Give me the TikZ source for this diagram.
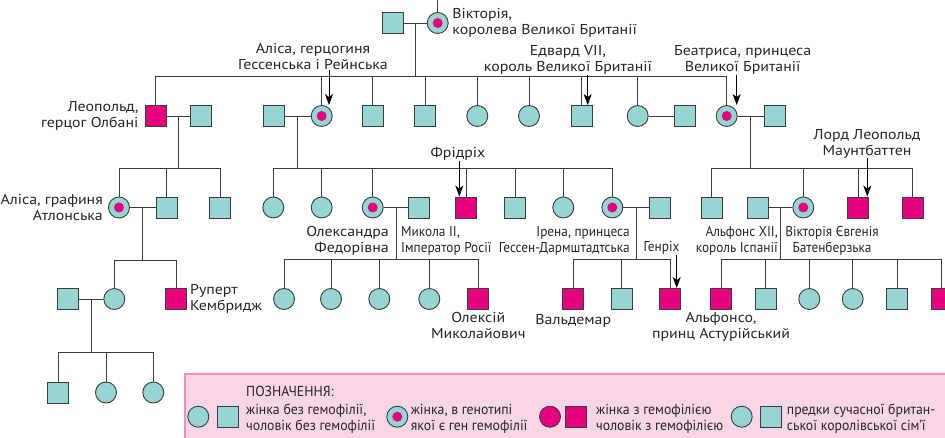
\documentclass[tikz,border=0pt]{standalone}
\usepackage{fontspec}
\setmainfont{PT Sans}
\newfontfamily\namefont[FakeStretch=1.11]{PT Sans}
\newfontfamily\narrowfont[FakeStretch=0.93]{PT Sans}
\newfontfamily\legfont[FakeStretch=0.95]{PT Sans}
\usetikzlibrary{arrows.meta, positioning, calc}
\definecolor{healthy}{HTML}{96D5D1}
\definecolor{sick}{HTML}{E6007E}
\definecolor{edge}{HTML}{3C3C3C}
\definecolor{legfill}{HTML}{F9D6E6}
\definecolor{legline}{HTML}{F08CBE}
\tikzset{
    man/.style={draw=edge, line width=0.9pt, fill=healthy, minimum size=21pt, inner sep=0pt},
    woman/.style={man, circle},
    sickman/.style={man, fill=sick},
    sickwoman/.style={woman, fill=sick},
    carrier/.style={woman, path picture={\fill[sick] (path picture bounding box.center) circle (5pt);}},
    tie/.style={draw=edge, line width=0.9pt},
    arrow/.style={-{Stealth[length=11pt, width=8pt, inset=3pt]}, line width=0.9pt, black},
    lbl/.style={font=\namefont\fontsize{14.3}{16}\selectfont, text=black!85, align=center, inner sep=0pt},
    narrowlbl/.style={lbl, font=\narrowfont\fontsize{14.3}{16}\selectfont},
    legtext/.style={font=\legfont\fontsize{14.5}{16}\selectfont, text=black!85, align=left, anchor=west, inner sep=0pt},
    legbox/.style={draw=legline, fill=legfill, line width=1.2pt}
}
\begin{document}
\begin{tikzpicture}[x=1pt, y=-1pt]
    \useasboundingbox (0,0) rectangle (945,438);
    \clip (0,0) rectangle (945,438);
    % generation 1
    \node [man] (albert) at (392.5,23) {};
    \node [carrier] (vic) at (437.7,23) {};
    \coordinate (vtop) at (437.7,0);
    % generation 2
    \node [sickman] (leo) at (155.5,116) {};
    \node [man] (leowife) at (201,116) {};
    \node [man] (ludwig) at (273.5,116) {};
    \node [carrier] (alice) at (321.7,116) {};
    \node [man] (c21) at (372.7,116) {};
    \node [man] (c22) at (425,116) {};
    \node [woman] (c23) at (477.3,116) {};
    \node [woman] (c24) at (529,116) {};
    \node [man] (edward) at (581.7,116) {};
    \node [woman] (c25) at (637.7,116) {};
    \node [man] (c25man) at (685,116) {};
    \node [carrier] (beatrice) at (726.7,116) {};
    \node [man] (beaman) at (775,116) {};
    % generation 3
    \node [carrier] (alath) at (119,207.5) {};
    \node [man] (c31) at (166.7,207.5) {};
    \node [man] (c32) at (220,207.5) {};
    \node [woman] (c33) at (273.3,207.5) {};
    \node [woman] (c34) at (321.7,207.5) {};
    \node [carrier] (alexandra) at (372.7,207.5) {};
    \node [man] (nikolai) at (419.3,207.5) {};
    \node [sickman] (fritz) at (466,207.5) {};
    \node [man] (c35) at (515,207.5) {};
    \node [woman] (c36) at (563.3,207.5) {};
    \node [carrier] (irene) at (612.3,207.5) {};
    \node [man] (ireneman) at (660,207.5) {};
    \node [man] (c37) at (711.7,207.5) {};
    \node [man] (alfonsxii) at (757.7,207.5) {};
    \node [carrier] (ena) at (803.3,207.5) {};
    \node [sickman] (mountb) at (858.3,207.5) {};
    \node [sickman] (c38) at (912.7,207.5) {};
    % generation 4
    \node [man] (c41) at (67.7,299) {};
    \node [woman] (c42) at (114.3,299) {};
    \node [sickman] (rupert) at (176,299) {};
    \node [woman] (n1) at (284,299) {};
    \node [woman] (n2) at (331,299) {};
    \node [woman] (n3) at (379.3,299) {};
    \node [woman] (n4) at (429.3,299) {};
    \node [sickman] (alexei) at (478.3,299) {};
    \node [sickman] (waldemar) at (573.3,299) {};
    \node [man] (c43) at (621.7,299) {};
    \node [sickman] (henrich) at (670,299) {};
    \node [sickman] (alfonso) at (721,299) {};
    \node [man] (c44) at (765.7,299) {};
    \node [woman] (c45) at (809.3,299) {};
    \node [woman] (c46) at (852.7,299) {};
    \node [man] (c47) at (897.3,299) {};
    \node [sickman] (c48) at (941.5,299) {};
    % generation 5
    \node [man] (c51) at (58.3,392.5) {};
    \node [woman] (c52) at (106,392.5) {};
    \node [woman] (c53) at (153.3,392.5) {};

    % marriages
    \draw [tie] (vic.north) -- (vtop);
    \draw [tie] (albert) -- (vic);
    \draw [tie] (leo) -- (leowife);
    \draw [tie] (ludwig) -- (alice);
    \draw [tie] (c25) -- (c25man);
    \draw [tie] (beatrice) -- (beaman);
    \draw [tie] (alath) -- (c31);
    \draw [tie] (alexandra) -- (nikolai);
    \draw [tie] (irene) -- (ireneman);
    \draw [tie] (alfonsxii) -- (ena);
    \draw [tie] (c41) -- (c42);

    % children
    \draw [tie] ($(albert)!.5!(vic)$) -- ++(0,53) coordinate (f1);
    \foreach \k in {leo,alice,c21,c22,c23,c24,edward,c25,beatrice}
        \draw [tie] (\k.north) |- (f1);
    \draw [tie] ($(leo)!.5!(leowife)$) -- ++(0,52) coordinate (f2);
    \foreach \k in {alath,c31,c32}
        \draw [tie] (\k.north) |- (f2);
    \draw [tie] ($(ludwig)!.5!(alice)$) -- ++(0,52) coordinate (f3);
    \foreach \k in {c33,c34,alexandra,fritz,c35,c36,irene}
        \draw [tie] (\k.north) |- (f3);
    \draw [tie] ($(beatrice)!.5!(beaman)$) -- ++(0,52) coordinate (f4);
    \foreach \k in {c37,ena,mountb,c38}
        \draw [tie] (\k.north) |- (f4);
    \draw [tie] ($(alath)!.5!(c31)$) -- ++(0,52.5) coordinate (f5);
    \foreach \k in {c42,rupert}
        \draw [tie] (\k.north) |- (f5);
    \draw [tie] ($(alexandra)!.5!(nikolai)$) -- ++(0,52) coordinate (f6);
    \foreach \k in {n1,n2,n3,n4,alexei}
        \draw [tie] (\k.north) |- (f6);
    \draw [tie] ($(irene)!.5!(ireneman)$) -- ++(0,52) coordinate (f7);
    \foreach \k in {waldemar,c43,henrich}
        \draw [tie] (\k.north) |- (f7);
    \draw [tie] ($(alfonsxii)!.5!(ena)$) -- ++(0,52) coordinate (f8);
    \foreach \k in {alfonso,c44,c45,c46,c47,c48}
        \draw [tie] (\k.north) |- (f8);
    \draw [tie] ($(c41)!.5!(c42)$) -- ++(0,53.5) coordinate (f9);
    \foreach \k in {c51,c52,c53}
        \draw [tie] (\k.north) |- (f9);

    % names
    \node [lbl, align=left, right=3.5pt of vic] (lvic) {Вікторія,\\королева Великої Британії};
    \node [lbl] (lalice) at (313,57) {Аліса, герцогиня\\Гессенська і Рейнська};
    \node [lbl] (ledward) at (568,60) {Едвард VII,\\король Великої Британії};
    \node [lbl] (lbea) at (742.7,60) {Беатриса, принцеса\\Великої Британії};
    \node [lbl, align=right, left=6pt of leo] (lleo) {Леопольд,\\герцог Олбані};
    \node [lbl] (lmountb) at (867,143.5) {Лорд Леопольд\\Маунтбаттен};
    \node [lbl] (lfritz) at (458,154) {Фрідріх};
    \node [lbl, align=right, left=5pt of alath] (lalath) {Аліса, графиня\\Атлонська};
    \node [lbl, align=right, anchor=east] (lalexandra) at (389,240.5) {Олександра\\Федорівна};
    \node [narrowlbl, align=left, anchor=west] (lnikolai) at (401,240.5) {Микола II,\\Імператор Росії};
    \node [narrowlbl, align=right, anchor=east] (lirene) at (630,240.5) {Ірена, принцеса\\Гессен-Дармштадтська};
    \node [narrowlbl] (lhenrich) at (661.5,248.3) {Генріх};
    \node [narrowlbl, align=right, anchor=east] (lalfonsxii) at (778,240.5) {Альфонс XII,\\король Іспанії};
    \node [narrowlbl] (lena) at (832,240.5) {Вікторія Євгенія\\Батенберзька};
    \node [lbl, align=left, right=3pt of rupert] (lrupert) {Руперт\\Кембридж};
    \node [lbl, below=2pt of alexei] (lalexei) {Олексій\\Миколайович};
    \node [lbl, below=4pt of waldemar] (lwaldemar) {Вальдемар};
    \node [lbl, below=2pt of alfonso] (lalfonso) {Альфонсо,\\принц Астурійський};

    % pointers
    \draw [arrow] ([xshift=7.3pt]alice.north |- lalice.south) -- ([xshift=7.3pt]alice.north);
    \draw [arrow] ([xshift=6pt]edward.north |- ledward.south) -- ([xshift=6pt]edward.north);
    \draw [arrow] ([xshift=10pt]beatrice.north |- lbea.south) -- ([xshift=10pt]beatrice.north);
    \draw [arrow] ([xshift=-6.7pt]fritz.north |- lfritz.south) -- ([xshift=-6.7pt]fritz.north);
    \draw [arrow] ([xshift=9pt]mountb.north |- lmountb.south) -- ([xshift=9pt]mountb.north);
    \draw [arrow] ([xshift=6.7pt]henrich.north |- lhenrich.south) -- ([xshift=6.7pt]henrich.north);

    % legend
    \draw [legbox] (185,374) rectangle (950,445);
    \node [legtext] (ltitle) at (246,391.7) {ПОЗНАЧЕННЯ:};
    \node [woman] (k1) at (198.3,416.7) {};
    \node [man] (k2) at (227.7,416.7) {};
    \node [legtext] (t1) at (246,418.7) {жінка без гемофілії,\\чоловік без гемофілії};
    \node [carrier] (k3) at (397.3,416.7) {};
    \node [legtext] (t2) at (410.7,418.7) {жінка, в генотипі\\якої є ген гемофілії};
    \node [sickwoman] (k4) at (550,416.7) {};
    \node [sickman] (k5) at (575.7,416.7) {};
    \node [legtext] (t3) at (596,418.7) {жінка з гемофілією\\чоловік з гемофілією};
    \node [woman] (k6) at (741.7,416.7) {};
    \node [man] (k7) at (771,416.7) {};
    \node [legtext] (t4) at (786.7,418.7) {предки сучасної британ-\\ської королівської сім’ї};
\end{tikzpicture}
\end{document}
